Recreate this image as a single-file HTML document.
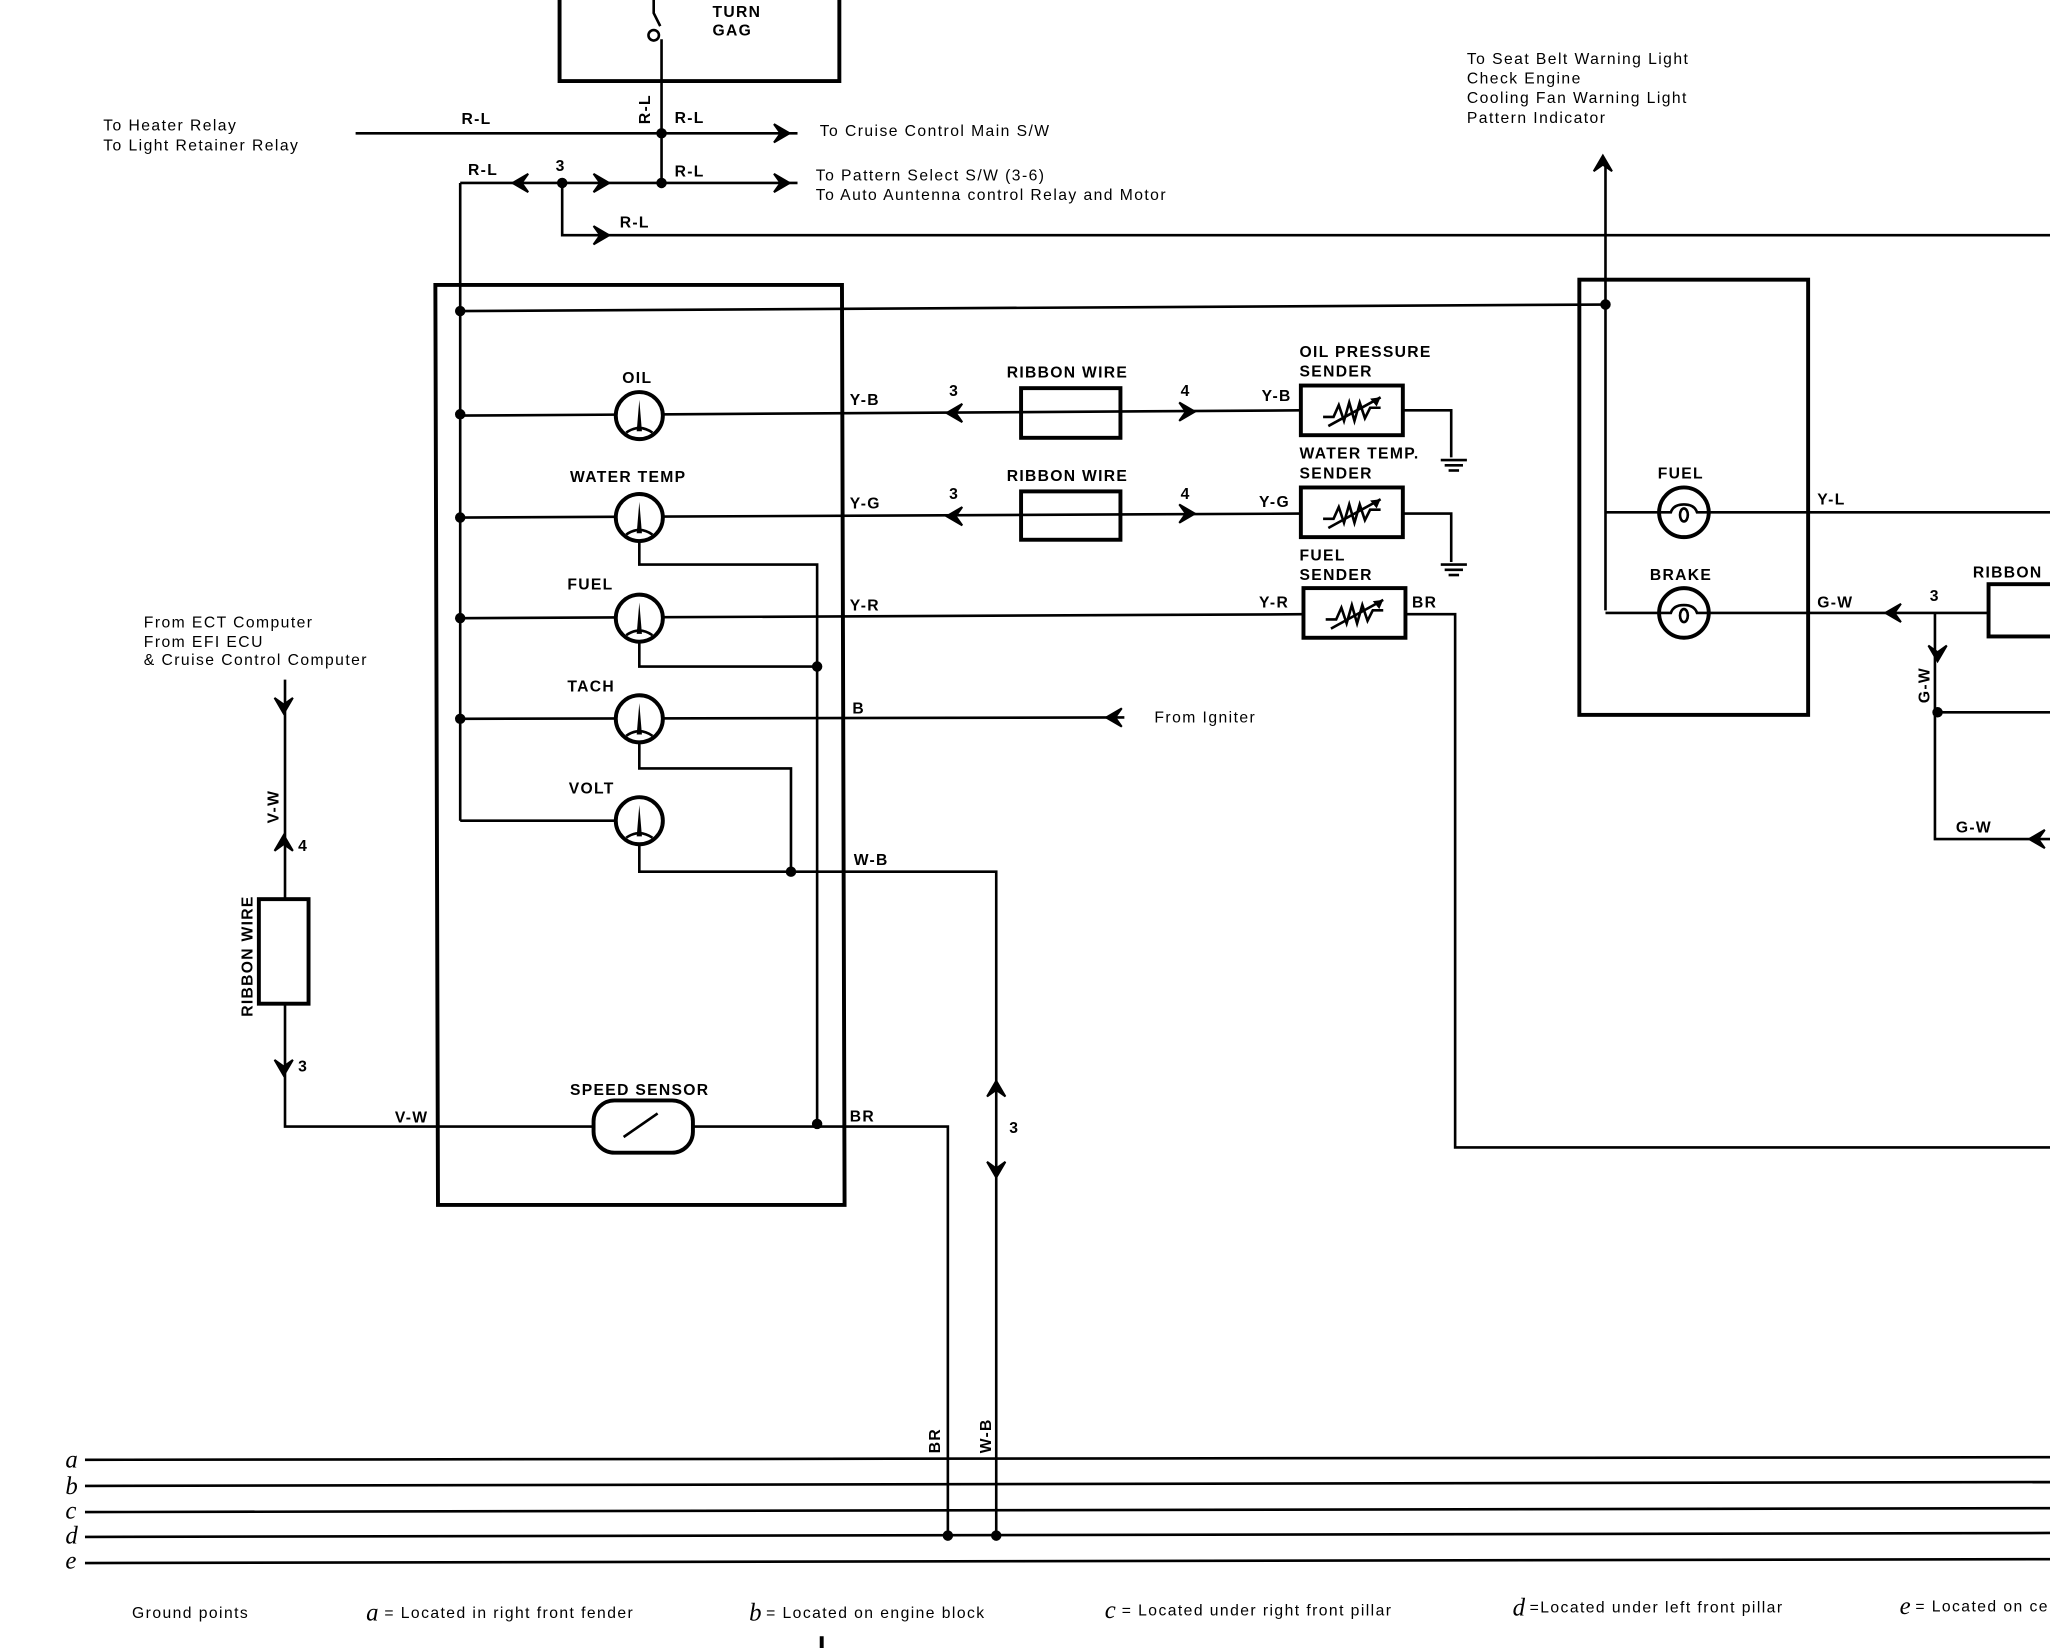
<!DOCTYPE html>
<html><head><meta charset="utf-8"><style>
html,body{margin:0;padding:0;background:#fff;}
svg{display:block;}
text{font-family:"Liberation Sans",sans-serif;font-size:12px;font-weight:bold;fill:#000;letter-spacing:1px;}
.n{font-weight:normal;letter-spacing:1.1px;}
text.it{font-family:"Liberation Serif",serif;font-style:italic;font-size:19px;font-weight:normal;letter-spacing:0;}
</style></head><body>
<svg width="2050" height="1648" viewBox="0 0 1568 1261" preserveAspectRatio="none" xmlns="http://www.w3.org/2000/svg">
<defs>
<g id="gauge"><ellipse cx="0" cy="0" rx="18" ry="18" fill="#fff" stroke="#000" stroke-width="3"/><path d="M-2,12 L0,-12 L2,12 Z" fill="#000"/><path d="M-10,13 Q0,6 10,13" fill="none" stroke="#000" stroke-width="2"/></g>
<g id="lamp"><circle r="19" fill="#fff" stroke="#000" stroke-width="3"/><path d="M-19,0 L-10,0 Q-8,-6 0,-6 Q8,-6 10,0 L19,0" fill="none" stroke="#000" stroke-width="2"/><ellipse cx="0" cy="2" rx="3" ry="5" fill="none" stroke="#000" stroke-width="2"/></g>
<g id="res"><path d="M-22,5 L-14,5 L-10,-4 L-6,8 L-2,-6 L2,8 L6,-6 L10,6 L14,-2 L22,-2" fill="none" stroke="#000" stroke-width="2"/><path d="M-18,12 L22,-10" stroke="#000" stroke-width="2"/><path d="M22,-10 L14,-9 L19,-3 Z" fill="#000"/></g>
<g id="gnd"><line x1="-10" y1="0" x2="10" y2="0" stroke="#000" stroke-width="2"/><line x1="-7" y1="4" x2="7" y2="4" stroke="#000" stroke-width="2"/><line x1="-4" y1="8" x2="4" y2="8" stroke="#000" stroke-width="2"/></g>
<path id="ar" d="M-6,-7 L6,0 L-6,7 L-1,0 Z" fill="#000" stroke="#000" stroke-width="1.5"/>
</defs>
<g stroke="#000" stroke-width="2" fill="none">
<path d="M428,0 V62 H642 V0" stroke-width="3"/>
<circle cx="500" cy="27" r="4" fill="#fff"/>
<path d="M500,0 V10 L505,20"/>
<line x1="506" y1="30" x2="506" y2="140"/>
<line x1="272" y1="102" x2="610" y2="102"/>
<line x1="352" y1="140" x2="610" y2="140"/>
<path d="M430,140 V180 H1568"/>
<line x1="352" y1="140" x2="352" y2="628"/>
<path d="M333,218 L644,218 L646,922 L335,922 Z" stroke-width="3"/>
<line x1="352" y1="238" x2="1228" y2="233"/>
<line x1="352" y1="318" x2="995" y2="314"/>
<line x1="352" y1="396" x2="995" y2="393"/>
<line x1="352" y1="473" x2="997" y2="470"/>
<line x1="352" y1="550" x2="860" y2="549"/>
<line x1="352" y1="628" x2="470" y2="628"/>
<path d="M1073,314 H1110 V350"/>
<path d="M1073,393 H1110 V430"/>
<path d="M1075,470 H1113 V878 H1568"/>
<path d="M489,414 V432 H625 V860"/>
<path d="M489,491 V510 H625"/>
<path d="M489,568 V588 H605 V667"/>
<path d="M489,646 V667 H762 V1175"/>
<path d="M218,520 V862 H454"/>
<path d="M530,862 H725 V1175"/>
<rect x="781" y="297" width="76" height="38" stroke-width="3"/>
<rect x="781" y="376" width="76" height="37" stroke-width="3"/>
<rect x="995" y="295" width="78" height="38" stroke-width="3"/>
<rect x="995" y="373" width="78" height="38" stroke-width="3"/>
<rect x="997" y="450" width="78" height="38" stroke-width="3"/>
<rect x="198" y="688" width="38" height="80" stroke-width="3" fill="#fff"/>
<rect x="454" y="842" width="76" height="40" rx="16" stroke-width="3" fill="#fff"/>
<path d="M477,870 L503,852" stroke-width="2"/>
<line x1="65" y1="1117" x2="1568" y2="1115"/>
<line x1="65" y1="1137" x2="1568" y2="1134"/>
<line x1="65" y1="1157" x2="1568" y2="1154"/>
<line x1="65" y1="1176" x2="1568" y2="1173"/>
<line x1="65" y1="1196" x2="1568" y2="1193"/>
<rect x="1208" y="214" width="175" height="333" stroke-width="3"/>
<line x1="1228" y1="125" x2="1228" y2="467"/>
<line x1="1228" y1="392" x2="1270" y2="392"/>
<line x1="1306" y1="392" x2="1568" y2="392"/>
<line x1="1228" y1="469" x2="1270" y2="469"/>
<line x1="1306" y1="469" x2="1521" y2="469"/>
<rect x="1521" y="447" width="60" height="40" stroke-width="3"/>
<path d="M1480,469 V642 H1568"/>
<line x1="1482" y1="545" x2="1568" y2="545"/>
</g>
<g fill="#000">
<circle cx="506" cy="102" r="4"/><circle cx="506" cy="140" r="4"/><circle cx="430" cy="140" r="4"/>
<circle cx="352" cy="238" r="4"/><circle cx="352" cy="317" r="4"/><circle cx="352" cy="396" r="4"/><circle cx="352" cy="473" r="4"/><circle cx="352" cy="550" r="4"/>
<circle cx="625" cy="510" r="4"/><circle cx="605" cy="667" r="4"/><circle cx="625" cy="860" r="4"/>
<circle cx="725" cy="1175" r="4"/><circle cx="762" cy="1175" r="4"/>
<circle cx="1228" cy="233" r="4"/><circle cx="1482" cy="545" r="4"/>
</g>
<use href="#ar" transform="translate(598,102)"/>
<use href="#ar" transform="translate(598,140)"/>
<use href="#ar" transform="translate(460,140)"/>
<use href="#ar" transform="translate(398,140) rotate(180)"/>
<use href="#ar" transform="translate(460,180)"/>
<use href="#ar" transform="translate(730,316) rotate(180)"/>
<use href="#ar" transform="translate(908,315)"/>
<use href="#ar" transform="translate(730,395) rotate(180)"/>
<use href="#ar" transform="translate(908,393)"/>
<use href="#ar" transform="translate(852,549) rotate(180)"/>
<use href="#ar" transform="translate(217,540) rotate(90)"/>
<use href="#ar" transform="translate(217,645) rotate(-90)"/>
<use href="#ar" transform="translate(217,817) rotate(90)"/>
<use href="#ar" transform="translate(762,833) rotate(-90)"/>
<use href="#ar" transform="translate(762,895) rotate(90)"/>
<use href="#ar" transform="translate(1226,125) rotate(-90)"/>
<use href="#ar" transform="translate(1448,469) rotate(180)"/>
<use href="#ar" transform="translate(1482,500) rotate(90)"/>
<use href="#ar" transform="translate(1558,642) rotate(180)"/>
<use href="#gauge" transform="translate(489,318)"/>
<use href="#gauge" transform="translate(489,396)"/>
<use href="#gauge" transform="translate(489,473)"/>
<use href="#gauge" transform="translate(489,550)"/>
<use href="#gauge" transform="translate(489,628)"/>
<use href="#lamp" transform="translate(1288,392)"/>
<use href="#lamp" transform="translate(1288,469)"/>
<use href="#res" transform="translate(1034,314)"/>
<use href="#res" transform="translate(1034,392)"/>
<use href="#res" transform="translate(1036,469)"/>
<use href="#gnd" transform="translate(1112,352)"/>
<use href="#gnd" transform="translate(1112,432)"/>
<text x="545" y="13">TURN</text><text x="545" y="27">GAG</text>
<text class="n" x="79" y="100">To Heater Relay</text>
<text class="n" x="79" y="115">To Light Retainer Relay</text>
<text x="353" y="95">R-L</text>
<text x="497" y="95" transform="rotate(-90 497 95)">R-L</text>
<text x="516" y="94">R-L</text>
<text class="n" x="627" y="104">To Cruise Control Main S/W</text>
<text x="358" y="134">R-L</text><text x="425" y="131">3</text><text x="516" y="135">R-L</text>
<text class="n" x="624" y="138">To Pattern Select S/W (3-6)</text>
<text class="n" x="624" y="153">To Auto Auntenna control Relay and Motor</text>
<text x="474" y="174">R-L</text>
<text x="476" y="293">OIL</text>
<text x="436" y="369">WATER TEMP</text>
<text x="434" y="451">FUEL</text>
<text x="434" y="529">TACH</text>
<text x="435" y="607">VOLT</text>
<text x="436" y="838">SPEED SENSOR</text>
<text x="650" y="310">Y-B</text><text x="650" y="389">Y-G</text><text x="650" y="467">Y-R</text><text x="652" y="546">B</text>
<text x="653" y="662">W-B</text><text x="650" y="858">BR</text><text x="302" y="859">V-W</text>
<text x="726" y="303">3</text><text x="903" y="303">4</text><text x="726" y="382">3</text><text x="903" y="382">4</text>
<text x="770" y="289">RIBBON WIRE</text><text x="770" y="368">RIBBON WIRE</text>
<text x="965" y="307">Y-B</text><text x="963" y="388">Y-G</text><text x="963" y="465">Y-R</text><text x="1080" y="465">BR</text>
<text x="994" y="273">OIL PRESSURE</text><text x="994" y="288">SENDER</text>
<text x="994" y="351">WATER TEMP.</text><text x="994" y="366">SENDER</text>
<text x="994" y="429">FUEL</text><text x="994" y="444">SENDER</text>
<text class="n" x="883" y="553">From Igniter</text>
<text class="n" x="110" y="480">From ECT Computer</text>
<text class="n" x="110" y="495">From EFI ECU</text>
<text class="n" x="110" y="509">&amp; Cruise Control Computer</text>
<text x="213" y="630" transform="rotate(-90 213 630)">V-W</text>
<text x="228" y="651">4</text><text x="228" y="820">3</text><text x="772" y="867">3</text>
<text x="193" y="778" transform="rotate(-90 193 778)">RIBBON WIRE</text>
<text x="719" y="1112" transform="rotate(-90 719 1112)">BR</text>
<text x="758" y="1112" transform="rotate(-90 758 1112)">W-B</text>
<text class="n" x="1122" y="49">To Seat Belt Warning Light</text>
<text class="n" x="1122" y="64">Check Engine</text>
<text class="n" x="1122" y="79">Cooling Fan Warning Light</text>
<text class="n" x="1122" y="94">Pattern Indicator</text>
<text x="1268" y="366">FUEL</text><text x="1262" y="444">BRAKE</text>
<text x="1390" y="386">Y-L</text><text x="1390" y="465">G-W</text><text x="1476" y="460">3</text>
<text x="1509" y="442">RIBBON</text>
<text x="1476" y="538" transform="rotate(-90 1476 538)">G-W</text>
<text x="1496" y="637">G-W</text>
<text class="it" x="50" y="1123">a</text><text class="it" x="50" y="1143">b</text><text class="it" x="50" y="1162">c</text><text class="it" x="50" y="1181">d</text><text class="it" x="50" y="1200">e</text>
<text class="it" x="280" y="1240">a</text><text class="it" x="573" y="1240">b</text><text class="it" x="845" y="1238">c</text><text class="it" x="1157" y="1236">d</text><text class="it" x="1453" y="1235">e</text>
<text class="n" x="101" y="1238">Ground points</text>
<text class="n" x="294" y="1238">= Located in right front fender</text>
<text class="n" x="586" y="1238">= Located on engine block</text>
<text class="n" x="858" y="1236">= Located under right front pillar</text>
<text class="n" x="1170" y="1234">=Located under left front pillar</text>
<text class="n" x="1465" y="1233">= Located on ce</text>
<rect x="627" y="1252" width="3" height="9" fill="#000"/>
</svg>
</body></html>
